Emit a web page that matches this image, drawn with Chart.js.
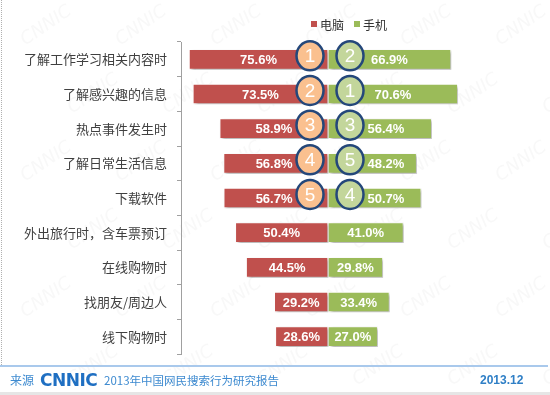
<!DOCTYPE html>
<html><head><meta charset="utf-8">
<script src="https://cdn.jsdelivr.net/npm/chart.js@4"></script>
<style>
html,body{margin:0;padding:0;background:#fff;}
#wrap{position:relative;width:550px;height:395px;overflow:hidden;background:#fff;}
#c{position:absolute;left:0;top:0;}
.lgbox{position:absolute;top:21px;width:6px;height:6px;}
.lgtxt{position:absolute;top:16px;line-height:16px;font:12px "Noto Sans CJK SC",sans-serif;color:#333;}
#fline{position:absolute;left:0;top:365px;width:548px;height:2px;background:#a9c9ec;}
#bline{position:absolute;left:0;top:392px;width:550px;height:3px;background:#e6e6e6;}
#dots{position:absolute;left:1px;top:0;height:365px;border-left:1px dotted #b0b0b0;}
.ft{position:absolute;top:372px;line-height:16px;color:#3d8ad0;white-space:nowrap;}
</style></head>
<body>
<div id="wrap">
<canvas id="c" width="550" height="395"></canvas>
<div id="dots"></div>
<div class="lgbox" style="left:311px;background:#c0504d"></div>
<div class="lgtxt" id="lg1" style="left:320px"></div>
<div class="lgbox" style="left:354px;background:#9bbb59"></div>
<div class="lgtxt" id="lg2" style="left:363px"></div>
<div id="fline"></div>
<div class="ft" style="left:10px;font:12px 'Noto Sans CJK SC',sans-serif;line-height:16px;">来源</div>
<div class="ft" style="left:40px;top:371px;font:bold 17px 'DejaVu Sans',sans-serif;line-height:18px;color:#1f6fc2;letter-spacing:-0.5px;">CNNIC</div>
<div class="ft" style="left:104px;font:11.5px 'Noto Sans CJK SC',sans-serif;line-height:16px;">2013年中国网民搜索行为研究报告</div>
<div class="ft" style="left:480px;font:bold 12px 'Liberation Sans',sans-serif;line-height:16px;color:#2f7fc6;">2013.12</div>
<div id="bline"></div>
</div>
<script>
const categories = ['了解工作学习相关内容时','了解感兴趣的信息','热点事件发生时','了解日常生活信息','下载软件','外出旅行时，含车票预订','在线购物时','找朋友/周边人','线下购物时'];
const seriesNames = ['电脑','手机'];
const pcValues = [75.6, 73.5, 58.9, 56.8, 56.7, 50.4, 44.5, 29.2, 28.6];
const mobileValues = [66.9, 70.6, 56.4, 48.2, 50.7, 41.0, 29.8, 33.4, 27.0];
const pcRanks = [1, 2, 3, 4, 5, null, null, null, null];
const mobileRanks = [2, 1, 3, 5, 4, null, null, null, null];

document.getElementById('lg1').textContent = seriesNames[0];
document.getElementById('lg2').textContent = seriesNames[1];

const decor = {
  id: 'decor',
  beforeDraw(chart) {
    const ctx = chart.ctx;
    ctx.save();
    ctx.fillStyle = 'rgba(170,170,170,0.08)';
    ctx.font = 'italic 18px "DejaVu Sans"';
    for (let j = 0; j < 6; j++) {
      for (let i = 0; i < 7; i++) {
        const x = 45 + i * 95 + (j % 2) * 47;
        const y = 25 + j * 68;
        ctx.save();
        ctx.translate(x, y);
        ctx.rotate(-0.6);
        ctx.fillText('CNNIC', -28, 6);
        ctx.restore();
      }
    }
    ctx.restore();
  },
  beforeDatasetsDraw(chart) {
    const ctx = chart.ctx;
    ctx.save();
    ctx.shadowColor = 'rgba(0,0,0,0.32)';
    ctx.shadowOffsetX = 2;
    ctx.shadowOffsetY = 2;
    ctx.shadowBlur = 3;
  },
  afterDatasetsDraw(chart) {
    const ctx = chart.ctx;
    ctx.restore();
    const xs = chart.scales.x;
    const zero = xs.getPixelForValue(0);
    const m0 = chart.getDatasetMeta(0).data;
    const m1 = chart.getDatasetMeta(1).data;
    const rx = 13.5, ry = 14.5;
    const redCx = zero - 18, greenCx = zero + 22;
    ctx.save();
    ctx.font = 'bold 13px "Liberation Sans"';
    ctx.fillStyle = '#fff';
    ctx.textBaseline = 'middle';
    ctx.textAlign = 'center';
    categories.forEach((c, i) => {
      const b0 = m0[i], b1 = m1[i];
      const t0 = pcValues[i].toFixed(1) + '%';
      const t1 = mobileValues[i].toFixed(1) + '%';
      const w0 = ctx.measureText(t0).width, w1 = ctx.measureText(t1).width;
      let x0 = (b0.x + zero) / 2;
      let x1 = (b1.x + zero) / 2;
      if (pcRanks[i] != null) x0 = Math.min(x0, redCx - rx - 4 - w0 / 2);
      if (mobileRanks[i] != null) x1 = Math.max(x1, greenCx + rx + 4 + w1 / 2);
      ctx.fillText(t0, x0, b0.y + 1);
      ctx.fillText(t1, x1, b1.y + 1);
    });
    ctx.restore();
    ctx.save();
    categories.forEach((c, i) => {
      const y = m0[i].y - 3.5;
      [[pcRanks[i], redCx, '#fac08f'], [mobileRanks[i], greenCx, '#c3d69b']].forEach(([r, cx, fill]) => {
        if (r == null) return;
        ctx.beginPath();
        ctx.ellipse(cx, y, rx, ry, 0, 0, Math.PI * 2);
        ctx.fillStyle = fill;
        ctx.fill();
        ctx.lineWidth = 2.5;
        ctx.strokeStyle = '#24477a';
        ctx.stroke();
        ctx.fillStyle = '#fff';
        ctx.font = '19px "Liberation Sans"';
        ctx.textAlign = 'center';
        ctx.textBaseline = 'middle';
        ctx.fillText(String(r), cx, y + 1);
      });
    });
    ctx.restore();
  }
};

new Chart(document.getElementById('c'), {
  type: 'bar',
  data: {
    labels: categories,
    datasets: [
      { label: seriesNames[0], data: pcValues.map(v => -v), backgroundColor: '#c0504d', borderColor: '#ffffff', borderWidth: 1, borderSkipped: false, barThickness: 20 },
      { label: seriesNames[1], data: mobileValues, backgroundColor: '#9bbb59', borderColor: '#ffffff', borderWidth: 1, borderSkipped: false, barThickness: 20 }
    ]
  },
  options: {
    indexAxis: 'y',
    responsive: false,
    animation: false,
    devicePixelRatio: 1,
    layout: { padding: { top: 42, bottom: 41, left: 0, right: 75 } },
    plugins: { legend: { display: false }, tooltip: { enabled: false } },
    scales: {
      x: { display: false, min: -80, max: 80, stacked: true },
      y: {
        stacked: true,
        afterFit(a) { a.width = 181; },
        grid: { drawOnChartArea: false, tickLength: 4, color: '#a0a0a0', offset: true },
        border: { color: '#a0a0a0' },
        ticks: { padding: 10, color: '#404040', font: { family: 'Noto Sans CJK SC', size: 13 } }
      }
    }
  },
  plugins: [decor]
});
</script>
</body></html>
